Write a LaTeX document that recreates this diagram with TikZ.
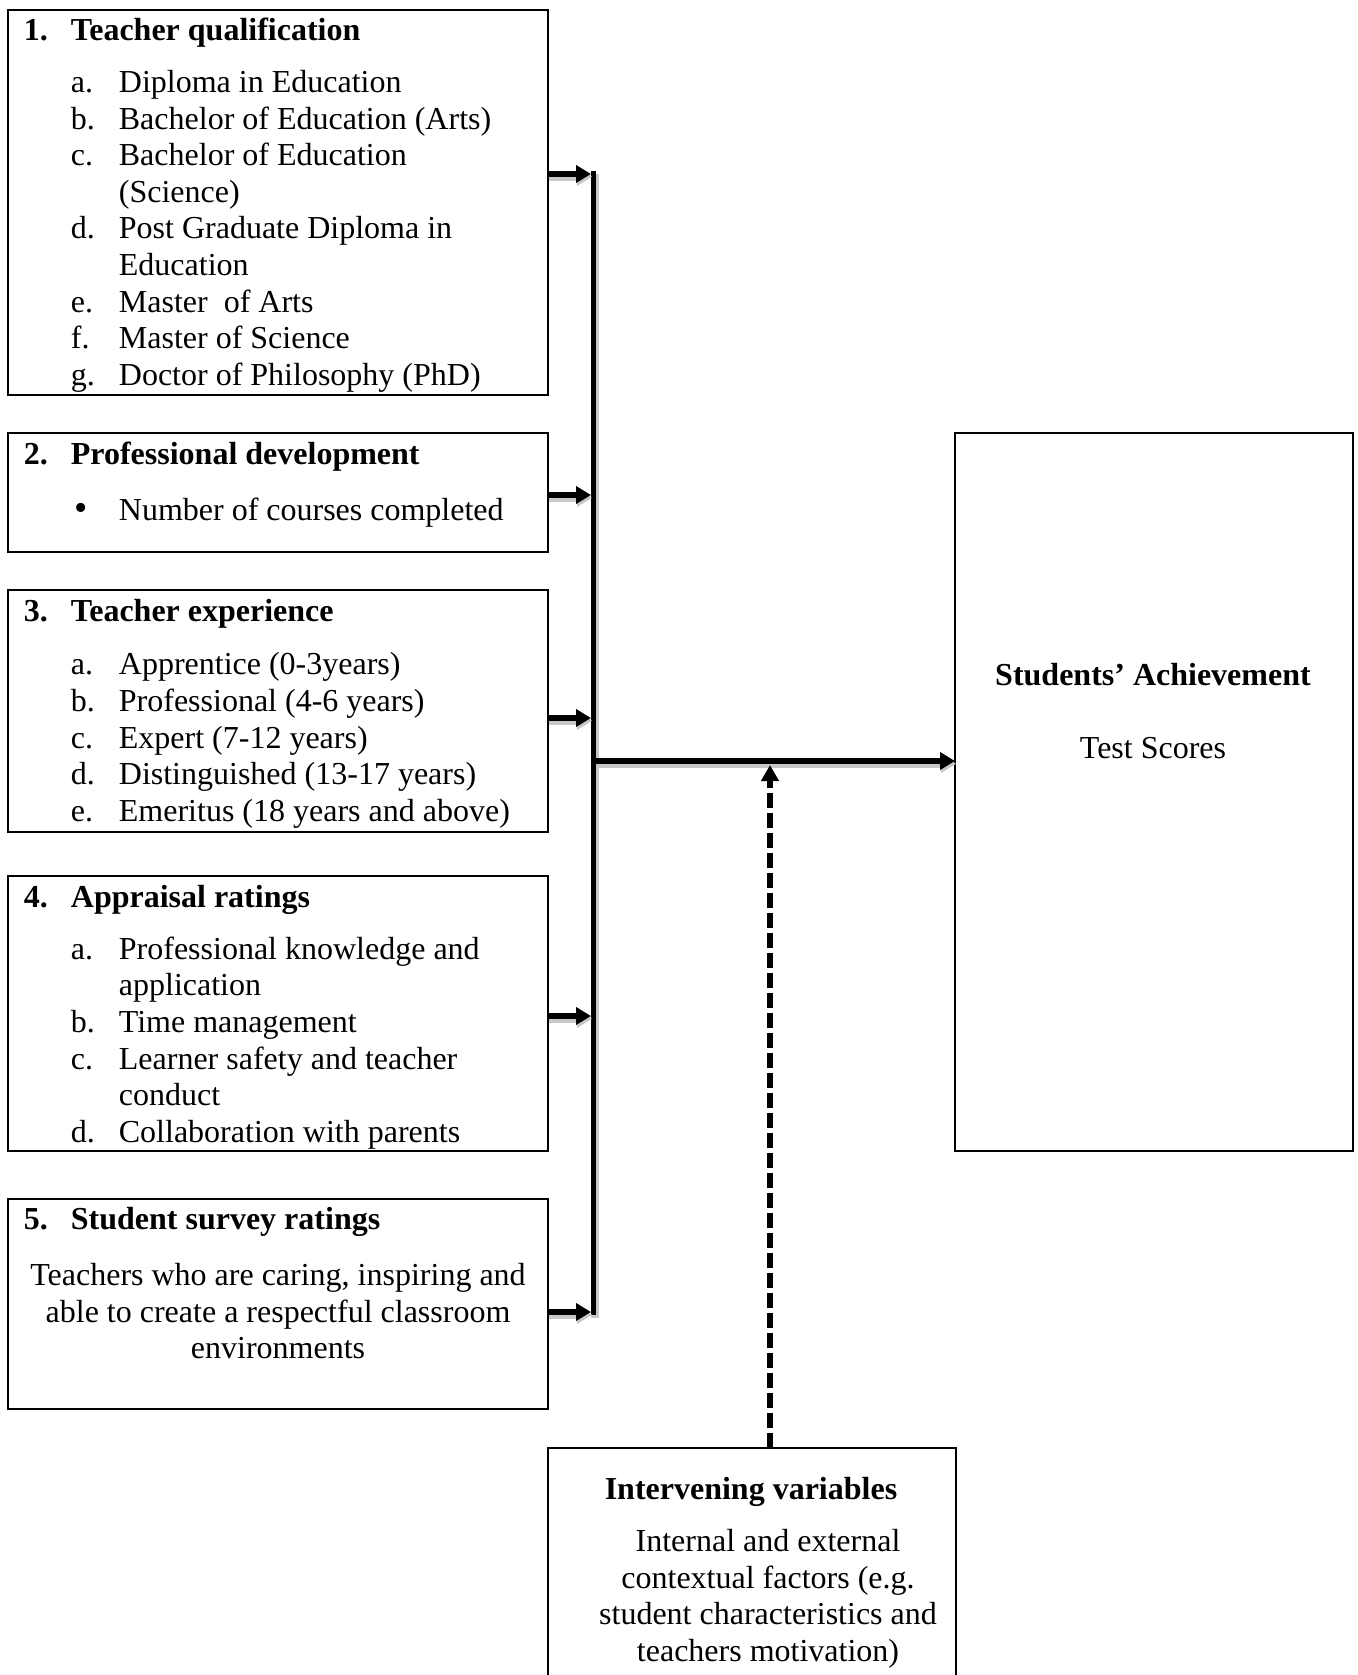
\documentclass[tikz,border=0pt]{standalone}
\usepackage{fontspec}
\setmainfont{Liberation Serif}
\usetikzlibrary{arrows.meta}

% one list line: name, baseline, letter, text
\newcommand\itemline[4]{%
  \node[txt] (#1-l) at (70.5,#2) {#3};
  \node[txt] (#1) at (118.5,#2) {#4};}
% continuation of a list line
\newcommand\moreline[3]{\node[txt] (#1) at (118.5,#2) {#3};}
% numbered bold heading: name, baseline, number, title
\newcommand\hdline[4]{%
  \node[hd] (#1-n) at (23.5,#2) {#3};
  \node[hd] (#1) at (70.5,#2) {#4};}
% framed box: name, x1, y1, x2, y2
\newcommand\varbox[5]{%
  \node[box, anchor=north west, minimum width={(#4-#2)*0.5pt},
        minimum height={(#5-#3)*0.5pt}] (#1) at (#2,#3) {};}

\tikzset{
  box/.style={draw, line width=1pt, rectangle, inner sep=0pt, outer sep=0pt},
  txt/.style={anchor=base west, inner sep=0pt, yshift=-1.2pt,
              font=\fontsize{16}{18.5}\selectfont},
  hd/.style={txt, font=\fontsize{16}{18.5}\selectfont\bfseries},
  ctxt/.style={txt, anchor=base},
  chd/.style={hd, anchor=base},
  soft/.style={preaction={draw=black!22, line width=4pt,
               transform canvas={shift={(0.6pt,-1.4pt)}}}},
  bus/.style={line width=2.7pt, soft},
  feed/.style={line width=3pt, soft, -{Triangle[length=7.5pt,width=8.5pt]}},
  dashfeed/.style={line width=2.8pt, -{Triangle[length=8pt,width=8.5pt]},
                   dash pattern=on 7.5pt off 2.5pt},
}

\begin{document}
\begin{tikzpicture}[x=0.5pt, y=-0.5pt]
\useasboundingbox (0,0) rectangle (1358,1675);
\clip (0,0) rectangle (1358,1675);
\fill[white] (0,0) rectangle (1358,1675);

% collecting bus and its junctions
\coordinate (bustop) at (593.5,171);
\coordinate (busbot) at (593.5,1315);
\coordinate (j1) at (591,174);
\coordinate (j2) at (591,495);
\coordinate (j3) at (591,718);
\coordinate (j4) at (591,1016);
\coordinate (j5) at (591,1312);
\coordinate (jm) at (596,761);
\coordinate (dm) at (770,765);

% input boxes
\varbox{b1}{7.5}{9.6}{548}{395}
\varbox{b2}{7.5}{433}{548}{552}
\varbox{b3}{7.5}{590}{548}{832}
\varbox{b4}{7.5}{876}{548}{1151}
\varbox{b5}{7.5}{1199}{548}{1409}
% outcome and intervening boxes
\node[box, line width=1.2pt, anchor=north west, minimum width={398*0.5pt},
      minimum height={718*0.5pt}] (out) at (955,433) {};
\node[box, anchor=north west, minimum width={408*0.5pt},
      minimum height={260*0.5pt}] (iv) at (548,1448) {};

% connectors
\draw[bus] (bustop) -- (busbot);
\draw[feed] (b1.east |- j1) -- (j1);
\draw[feed] (b2.east |- j2) -- (j2);
\draw[feed] (b3.east |- j3) -- (j3);
\draw[feed] (b4.east |- j4) -- (j4);
\draw[feed] (b5.east |- j5) -- (j5);
\draw[feed] (jm) -- (out.west |- jm);
\draw[dashfeed] (iv.north -| dm) -- (dm);

% 1. Teacher qualification
\hdline{h1}{38}{1.}{Teacher qualification}
\itemline{q1}{90}{a.}{Diploma in Education}
\itemline{q2}{126.6}{b.}{Bachelor of Education (Arts)}
\itemline{q3}{163.2}{c.}{Bachelor of Education}
\moreline{q3b}{199.8}{(Science)}
\itemline{q4}{236.4}{d.}{Post Graduate Diploma in}
\moreline{q4b}{273}{Education}
\itemline{q5}{309.6}{e.}{Master\ \ of Arts}
\itemline{q6}{346.2}{f.}{Master of Science}
\itemline{q7}{382.8}{g.}{Doctor of Philosophy (PhD)}

% 2. Professional development
\hdline{h2}{462}{2.}{Professional development}
\node[txt, font=\fontsize{19}{20}\selectfont] (p1-l) at (74.5,517.6) {\textbullet};
\moreline{p1}{517.6}{Number of courses completed}

% 3. Teacher experience
\hdline{h3}{619}{3.}{Teacher experience}
\itemline{e1}{672.5}{a.}{Apprentice (0-3years)}
\itemline{e2}{709.1}{b.}{Professional (4-6 years)}
\itemline{e3}{745.7}{c.}{Expert (7-12 years)}
\itemline{e4}{782.3}{d.}{Distinguished (13-17 years)}
\itemline{e5}{818.9}{e.}{Emeritus (18 years and above)}

% 4. Appraisal ratings
\hdline{h4}{905.5}{4.}{Appraisal ratings}
\itemline{r1}{956.8}{a.}{Professional knowledge and}
\moreline{r1b}{993.4}{application}
\itemline{r2}{1030}{b.}{Time management}
\itemline{r3}{1066.6}{c.}{Learner safety and teacher}
\moreline{r3b}{1103.2}{conduct}
\itemline{r4}{1139.8}{d.}{Collaboration with parents}

% 5. Student survey ratings
\hdline{h5}{1227}{5.}{Student survey ratings}
\node[ctxt] (s1) at (278,1283) {Teachers who are caring, inspiring and};
\node[ctxt] (s2) at (278,1319.6) {able to create a respectful classroom};
\node[ctxt] (s3) at (278,1356.2) {environments};

% outcome
\node[chd] (oh) at (1153,683) {Students’ Achievement};
\node[ctxt] (ot) at (1153,756) {Test Scores};

% intervening variables
\node[chd] (ih) at (751,1497) {Intervening variables};
\node[ctxt] (i1) at (768,1549) {Internal and external};
\node[ctxt] (i2) at (768,1585.6) {contextual factors (e.g.};
\node[ctxt] (i3) at (768,1622.2) {student characteristics and};
\node[ctxt] (i4) at (768,1658.8) {teachers motivation)};
\end{tikzpicture}
\end{document}
